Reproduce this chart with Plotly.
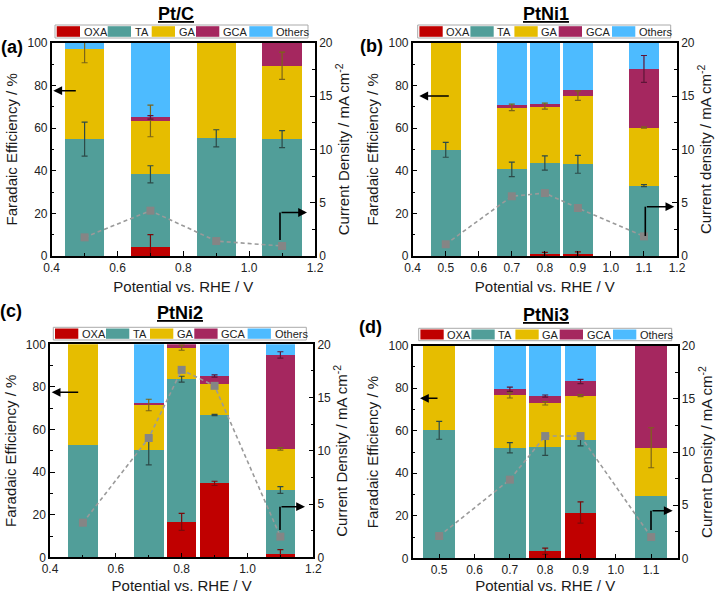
import plotly.graph_objects as go

W, H = 716, 594

products = ["OXA", "TA", "GA", "GCA", "Others"]
colors = ["#C00000", "#519E99", "#E6BD00", "#A5275F", "#4DBBFF"]
err_colors = ["#7A0A0A", "#2C4A48", "#7C6518", "#5E1537"]

panel_titles = ["Pt/C", "PtNi1", "PtNi2", "PtNi3"]
panel_letters = ["(a)", "(b)", "(c)", "(d)"]

# ---- Panel (a): Pt/C ----
pot_a = [0.5, 0.7, 0.9, 1.1]
oxa_a = [0, 4.0, 0, 0]
ta_a = [54.8, 34.3, 55.2, 54.8]
ga_a = [42.2, 25.0, 44.8, 34.4]
gca_a = [0, 1.7, 0, 10.8]
oth_a = [3.0, 35.0, 0, 0]
oxa_err_a = [0, 6.0, 0, 0]
ta_err_a = [8.0, 4.0, 4.0, 4.0]
ga_err_a = [6.4, 7.4, 0, 6.4]
gca_err_a = [0, 0.8, 0, 0]
cd_a = [1.75, 4.25, 1.4, 0.94]

# ---- Panel (b): PtNi1 ----
pot_b = [0.5, 0.7, 0.8, 0.9, 1.1]
oxa_b = [0, 0, 0.9, 0.9, 0]
ta_b = [49.8, 40.6, 42.7, 42.1, 33.0]
ga_b = [50.2, 29.1, 26.7, 32.2, 27.2]
gca_b = [0, 0.9, 0.8, 2.6, 27.5]
oth_b = [0, 29.4, 28.9, 22.2, 12.3]
oxa_err_b = [0, 0, 0.8, 1.0, 0]
ta_err_b = [3.5, 3.4, 3.3, 4.2, 0.5]
ga_err_b = [0, 1.5, 1.4, 2.2, 0.3]
gca_err_b = [0, 0, 0, 0, 6.3]
cd_b = [1.1, 5.6, 5.9, 4.5, 1.84]

# ---- Panel (c): PtNi2 ----
pot_c = [0.5, 0.7, 0.8, 0.9, 1.1]
oxa_c = [0, 0, 16.6, 34.7, 1.6]
ta_c = [52.6, 50.4, 67.0, 32.1, 30.0]
ga_c = [47.4, 21.1, 14.8, 14.7, 19.3]
gca_c = [0, 0.8, 1.6, 3.6, 44.1]
oth_c = [0, 27.7, 0, 14.9, 5.0]
oxa_err_c = [0, 0, 4.0, 1.0, 2.0]
ta_err_c = [0, 7.0, 1.4, 0.3, 1.6]
ga_err_c = [0, 2.7, 1.2, 0, 0.6]
gca_err_c = [0, 0, 0, 0.5, 1.5]
cd_c = [3.25, 11.2, 17.6, 16.1, 1.94]

# ---- Panel (d): PtNi3 ----
pot_d = [0.5, 0.7, 0.8, 0.9, 1.1]
oxa_d = [0, 0, 3.3, 21.5, 0]
ta_d = [60.2, 52.0, 49.1, 34.1, 29.3]
ga_d = [39.8, 24.6, 20.5, 20.9, 22.7]
gca_d = [0, 2.9, 3.4, 6.7, 48.0]
oth_d = [0, 20.5, 23.7, 16.8, 0]
oxa_err_d = [0, 0, 1.5, 5.0, 0]
ta_err_d = [4.2, 2.4, 4.0, 2.7, 0]
ga_err_d = [0, 1.2, 0.8, 0.5, 9.4]
gca_err_d = [0, 1.0, 0.5, 1.0, 0]
cd_d = [2.1, 7.4, 11.5, 11.5, 2.0]

panels = [
    dict(x=pot_a, seg=[oxa_a, ta_a, ga_a, gca_a, oth_a],
         err=[oxa_err_a, ta_err_a, ga_err_a, gca_err_a], cd=cd_a),
    dict(x=pot_b, seg=[oxa_b, ta_b, ga_b, gca_b, oth_b],
         err=[oxa_err_b, ta_err_b, ga_err_b, gca_err_b], cd=cd_b),
    dict(x=pot_c, seg=[oxa_c, ta_c, ga_c, gca_c, oth_c],
         err=[oxa_err_c, ta_err_c, ga_err_c, gca_err_c], cd=cd_c),
    dict(x=pot_d, seg=[oxa_d, ta_d, ga_d, gca_d, oth_d],
         err=[oxa_err_d, ta_err_d, ga_err_d, gca_err_d], cd=cd_d),
]

cd_titles = ["Current Density / mA cm<sup>-2</sup>", "Current density / mA cm<sup>-2</sup>",
             "Current Density / mA cm<sup>-2</sup>", "Current Density / mA cm<sup>-2</sup>"]

# layout geometry in pixels: (left, right, top, bottom)
boxes = [(51.7, 315.0, 42.7, 256.0), (412.7, 677.0, 42.7, 256.0),
         (50.0, 313.3, 344.3, 557.3), (412.7, 677.7, 345.7, 558.3)]
bar_widths = [0.12, 0.09, 0.09, 0.09]
xranges = [[0.4, 1.2], [0.4, 1.2], [0.4, 1.2], [0.425, 1.175]]
xdtick = [0.2, 0.1, 0.2, 0.1]
xtick0 = [0.4, 0.4, 0.4, 0.5]
title_x = [176, 546, 180, 546]
title_y = [14, 14, 313, 315]
letter_pos = [(12, 47), (372, 46), (11, 311), (370, 327)]
legend_boxes = [(55, 25, 38), (417.7, 25, 38), (53.3, 327.3, 340), (418.7, 328.3, 340.7)]
left_arrows = [(53.3, 90.7, 24), (419.3, 96, 31), (51.7, 392.3, 28), (420, 398.3, 19)]
l_arrows = [(280, 240, 212.5, 307), (645.3, 236, 206.7, 674.3),
            (280, 530, 506.7, 305), (651, 530, 510.7, 672.7)]


def px(x):
    return x / W


def py(y):
    return 1 - y / H


fig = go.Figure()
layout = dict(width=W, height=H, margin=dict(l=0, r=0, t=0, b=0, autoexpand=False),
              template="none",
              paper_bgcolor="white", plot_bgcolor="white", barmode="stack",
              showlegend=False, font=dict(family="Liberation Sans, Arial", color="#1a1a1a"))
shapes = []
annotations = []

for i, p in enumerate(panels):
    xa = "x" if i == 0 else f"x{i + 1}"
    ya = "y" if i == 0 else f"y{2 * i + 1}"
    ya2 = f"y{2 * i + 2}"
    xkey = "xaxis" if i == 0 else f"xaxis{i + 1}"
    ykey = "yaxis" if i == 0 else f"yaxis{2 * i + 1}"
    y2key = f"yaxis{2 * i + 2}"
    l, r, t, b = boxes[i]

    for k, name in enumerate(products):
        fig.add_trace(go.Bar(x=p["x"], y=p["seg"][k], name=name, width=bar_widths[i],
                             marker=dict(color=colors[k], line=dict(width=0)),
                             xaxis=xa, yaxis=ya))
    # error bars at the top of each stacked segment
    cum = [0.0] * len(p["x"])
    for k in range(4):
        cum = [c + s for c, s in zip(cum, p["seg"][k])]
        ys = [c if e > 0 else None for c, e in zip(cum, p["err"][k])]
        fig.add_trace(go.Scatter(x=p["x"], y=ys, mode="markers",
                                 marker=dict(size=1, opacity=0),
                                 error_y=dict(type="data", array=p["err"][k], visible=True,
                                              color=err_colors[k], thickness=1.2, width=3),
                                 xaxis=xa, yaxis=ya, hoverinfo="skip"))
    fig.add_trace(go.Scatter(x=p["x"], y=p["cd"], mode="lines+markers",
                             line=dict(color="#9a9a9a", width=1.6, dash="4px,3px"),
                             marker=dict(symbol="square", size=8, color="#858585"),
                             xaxis=xa, yaxis=ya2, cliponaxis=False))

    axis_common = dict(showgrid=False, zeroline=False, linecolor="black", linewidth=1.5,
                       showline=True, automargin=False,
                       ticks="inside", ticklen=5, tickwidth=1.2, tickcolor="black",
                       tickfont=dict(size=12, color="#222"))
    xdict = dict(axis_common, domain=[px(l), px(r)], anchor=ya, range=xranges[i],
                 tick0=xtick0[i], dtick=xdtick[i], tickformat=".1f", mirror=True,
                 title=dict(text="Potential vs. RHE / V", font=dict(size=15), standoff=7))
    if xdtick[i] == 0.2:
        xdict["minor"] = dict(ticks="inside", ticklen=3, dtick=0.1, tickcolor="black", tickwidth=1.2)
    layout[xkey] = xdict
    layout[ykey] = dict(axis_common, domain=[py(b), py(t)], anchor=xa, range=[0, 100],
                        dtick=20, minor=dict(ticks="inside", ticklen=3, dtick=10,
                                             tickcolor="black", tickwidth=1.2),
                        title=dict(text="Faradaic Efficiency / %", font=dict(size=15), standoff=6))
    layout[y2key] = dict(axis_common, domain=[py(b), py(t)], anchor=xa, overlaying=ya,
                         side="right", range=[0, 20], dtick=5,
                         minor=dict(ticks="inside", ticklen=3, dtick=2.5,
                                    tickcolor="black", tickwidth=1.2),
                         title=dict(text=cd_titles[i], font=dict(size=15), standoff=6))

    # panel title and letter
    annotations.append(dict(text=f"<b><u>{panel_titles[i]}</u></b>", x=px(title_x[i]), y=py(title_y[i]),
                            xref="paper", yref="paper", showarrow=False, font=dict(size=18, color="black"),
                            xanchor="center", yanchor="middle"))
    lx, ly = letter_pos[i]
    annotations.append(dict(text=f"<b>{panel_letters[i]}</b>", x=px(lx), y=py(ly), xref="paper",
                            yref="paper", showarrow=False, font=dict(size=18, color="black"),
                            xanchor="center", yanchor="middle"))

    # custom legend
    bx0, by0, by1 = legend_boxes[i]
    shapes.append(dict(type="rect", xref="paper", yref="paper", x0=px(bx0), x1=px(bx0 + 253),
                       y0=py(by1), y1=py(by0), line=dict(color="#aaaaaa", width=1),
                       fillcolor="white", layer="above"))
    offsets = [1.7, 52.7, 96.7, 141.0, 194.3]
    for k, name in enumerate(products):
        rx0 = bx0 + offsets[k]
        shapes.append(dict(type="rect", xref="paper", yref="paper", x0=px(rx0), x1=px(rx0 + 23.3),
                           y0=py(by1 - 1.2), y1=py(by0 + 1.2), line=dict(width=0),
                           fillcolor=colors[k], layer="above"))
        annotations.append(dict(text=name, x=px(rx0 + 25.0), y=py((by0 + by1) / 2 + 0.5),
                                xref="paper", yref="paper", showarrow=False, xanchor="left",
                                yanchor="middle", font=dict(size=11, color="#222")))

    # left-pointing arrow (FE axis)
    ax_x, ax_y, ax_len = left_arrows[i]
    annotations.append(dict(x=px(ax_x), y=py(ax_y), xref="paper", yref="paper", ax=ax_len, ay=0,
                            axref="pixel", ayref="pixel", showarrow=True, arrowhead=2,
                            arrowsize=1.1, arrowwidth=1.6, arrowcolor="black", text=""))
    # L-shaped right-pointing arrow (current density axis)
    vx, vy0, vy1, hx = l_arrows[i]
    shapes.append(dict(type="line", xref="paper", yref="paper", x0=px(vx), x1=px(vx),
                       y0=py(vy0), y1=py(vy1), line=dict(color="black", width=1.6), layer="above"))
    annotations.append(dict(x=px(hx), y=py(vy1), xref="paper", yref="paper",
                            ax=-(hx - vx), ay=0, axref="pixel", ayref="pixel", showarrow=True,
                            arrowhead=2, arrowsize=1.1, arrowwidth=1.6, arrowcolor="black", text=""))

layout["shapes"] = shapes
layout["annotations"] = annotations
fig.update_layout(**layout)
fig.write_html("out.html", config={"displayModeBar": False},
               post_script="document.body.style.margin='0px';"
                           "document.documentElement.style.overflow='hidden';")
